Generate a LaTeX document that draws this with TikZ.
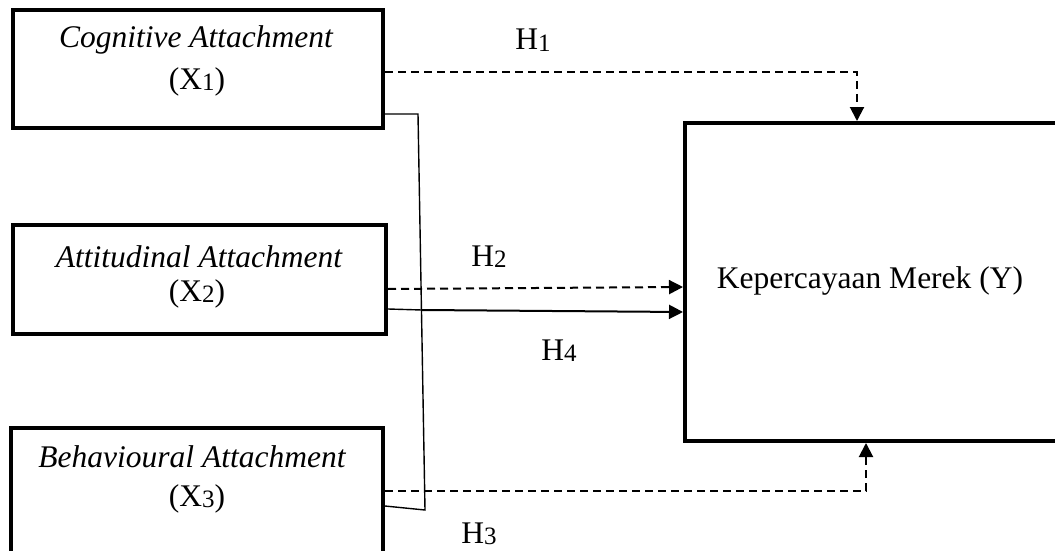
\documentclass[tikz,border=0pt]{standalone}
\usepackage{fontspec}
\setmainfont{Liberation Serif}
\usetikzlibrary{arrows.meta,calc}
\newcommand\mysub[1]{\raisebox{-0.06em}{\fontsize{25}{25}\selectfont #1}}
\begin{document}
\begin{tikzpicture}[x=1pt,y=-1pt,
  box/.style={draw,line width=4pt,inner sep=0pt},
  txt/.style={anchor=base,inner sep=0pt,font=\fontsize{31.5}{36}\selectfont},
  dsh/.style={line width=2pt,dash pattern=on 8pt off 5pt},
  thin/.style={line width=1.4pt},
  tip/.style={-{Triangle[length=14pt,width=14pt]}}]
\useasboundingbox (0,0) rectangle (1055,551);
\clip (0,0) rectangle (1055,551);
% boxes
\node[box,minimum width=370pt,minimum height=118pt] (x1) at (198,69) {};
\node[box,minimum width=373pt,minimum height=109pt] (x2) at (199.5,279.5) {};
\node[box,minimum width=372pt,minimum height=140pt] (x3) at (197,498) {};
\node[box,minimum width=375pt,minimum height=318pt] (y) at (872.5,282) {};
% texts
\node[txt] (x1a) at (196,48) {\itshape Cognitive Attachment};
\node[txt] (x1b) at (197,89) {(X\mysub{1})};
\node[txt] (x2a) at (199,267) {\itshape Attitudinal Attachment};
\node[txt] (x2b) at (197,301) {(X\mysub{2})};
\node[txt] (x3a) at (192,467) {\itshape Behavioural Attachment};
\node[txt] (x3b) at (197,506) {(X\mysub{3})};
\node[txt] (yt) at (870,288) {Kepercayaan Merek (Y)};
% hypothesis labels
\node[txt] (h1) at (533,50) {H\mysub{1}};
\node[txt] (h2) at (489,266) {H\mysub{2}};
\node[txt] (h4) at (559,360) {H\mysub{4}};
\node[txt] (h3) at (479,543) {H\mysub{3}};
% coordinates
\coordinate (b1) at (418,114);
\coordinate (b2) at (422,310);
\coordinate (b3) at (425,510);
\coordinate (c1) at (857,72);
\coordinate (c3) at (866,491);
% bracket (solid thin)
\draw[thin] ($(x1.east)+(0,45)$) -- (b1) -- (b3) -- ($(x3.east)+(0,8)$);
\draw[thin] ($(x2.east)+(0,29.5)$) -- (b2);
% H4 solid arrow
\draw[line width=2pt,tip] (b2) -- ($(y.west)+(0,30)$);
% H1 dashed
\draw[dsh,tip] ($(x1.east)+(0,3)$) -- (c1) -- (c1 |- y.north);
% H2 dashed
\draw[dsh,tip] ($(x2.east)+(0,9.5)$) -- ($(y.west)+(0,5)$);
% H3 dashed
\draw[dsh,tip] ($(x3.east)+(0,-7)$) -- (c3) -- (c3 |- y.south);
\end{tikzpicture}
\end{document}
